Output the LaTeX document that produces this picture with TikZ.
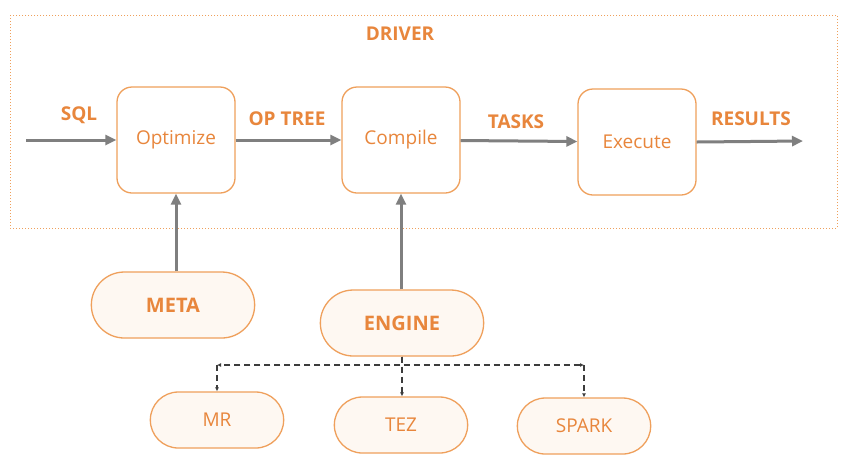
\documentclass[tikz,border=0pt]{standalone}
\usepackage{fontspec}
\setmainfont{Open Sans}
\usetikzlibrary{arrows.meta,shapes.misc}

\definecolor{drvorange}{HTML}{E8863C}
\definecolor{boxorange}{HTML}{EFA05C}
\definecolor{capfill}{HTML}{FEF8F2}
\definecolor{flowgray}{HTML}{7F7F7F}
\definecolor{fangray}{HTML}{3C3C3C}

\tikzset{
  stage/.style={draw=boxorange, line width=1.3pt, rounded corners=15pt,
    minimum width=118pt, minimum height=106pt, text=drvorange,
    font=\fontsize{19}{22}\selectfont},
  module/.style={draw=boxorange, fill=capfill, line width=1.3pt, rounded rectangle,
    minimum width=170pt, minimum height=66pt, text=drvorange,
    font=\bfseries\fontsize{20}{24}\selectfont},
  backend/.style={module, minimum width=140pt, minimum height=56pt,
    font=\fontsize{19}{22}\selectfont},
  lbl/.style={text=drvorange, font=\bfseries\fontsize{19}{22}\selectfont},
  flow/.style={draw=flowgray, line width=3pt, -{Triangle[length=11pt,width=10pt]}},
  fan/.style={draw=fangray, line width=1.3pt, dash pattern=on 6pt off 4pt,
    -{Latex[length=4pt,width=4pt]}}
}

\begin{document}
\begin{tikzpicture}[x=1pt,y=-1pt]
  \useasboundingbox[fill=white] (0,0) rectangle (848,467);

  % driver frame
  \draw[draw=boxorange, line width=1pt, dotted] (10,15) rectangle (837,228);
  \node[lbl] (driver) at (400,34) {DRIVER};

  % stages
  \node[stage] (optimize) at (176,140) {Optimize};
  \node[stage] (compile) at (401,140) {Compile};
  \node[stage] (execute) at (637,142) {Execute};

  %% flow between stages
  \coordinate (sqlin) at (26,140);
  \coordinate (resout) at (803,141);
  \draw[flow] (sqlin) -- (optimize.west);
  \draw[flow] (optimize) -- (compile);
  \draw[flow] (compile) -- (execute);
  \draw[flow] (execute.east) -- (resout);

  \node[lbl] (sql) at (79,115) {SQL};
  \node[lbl] (optree) at (287,119) {OP TREE};
  \node[lbl] (tasks) at (516,122) {TASKS};
  \node[lbl] (results) at (751,119) {RESULTS};

  % modules
  \node[module] (meta) at (173,305) {META};
  \node[module] (engine) at (402,323) {ENGINE};
  \draw[flow] (meta.north -| optimize.south) -- (optimize.south);
  \draw[flow] (engine.north -| compile.south) -- (compile.south);

  % backends
  \node[backend] (mr) at (217,420) {MR};
  \node[backend] (tez) at (401,425) {TEZ};
  \node[backend] (spark) at (584,426) {SPARK};

  %% dashed fan-out
  \coordinate (fork) at (400,365);
  \draw[fan] (engine.south) |- (fork -| mr.north);
  \draw[fan] (fork -| mr.north) -- (mr.north);
  \draw[fan] (engine.south) |- (fork -| spark.north);
  \draw[fan] (fork -| spark.north) -- (spark.north);
  \draw[fan] (engine.south) -- (engine.south |- tez.north);
\end{tikzpicture}
\end{document}
